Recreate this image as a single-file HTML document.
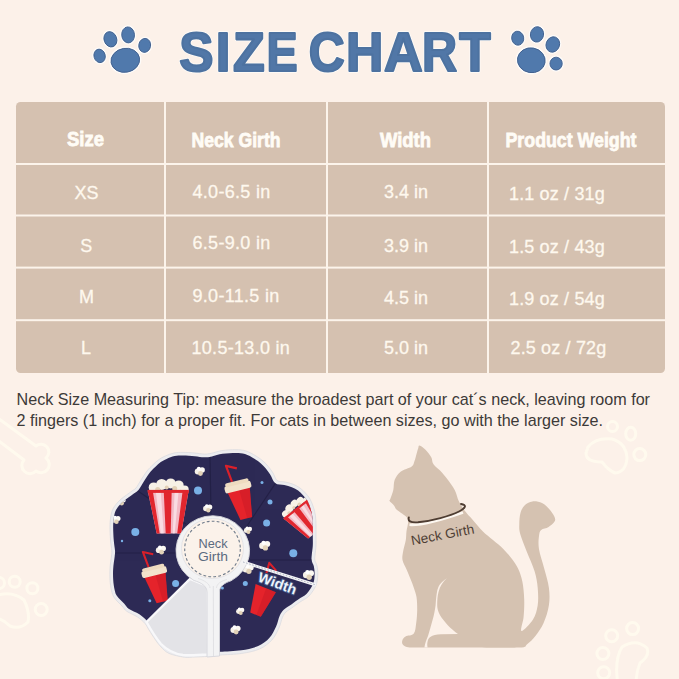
<!DOCTYPE html>
<html><head><meta charset="utf-8">
<style>
html,body{margin:0;padding:0;background:#fcf1e9;width:679px;height:679px;overflow:hidden}
svg{display:block}
text{font-family:"Liberation Sans",sans-serif}
</style></head>
<body>
<svg width="679" height="679" viewBox="0 0 679 679">
<rect x="0" y="0" width="679" height="679" fill="#fcf1e9"/>

<!-- faint background decorations -->
<g fill="none" stroke="#fffaee" stroke-width="3" stroke-linecap="round" stroke-linejoin="round">
  <!-- bone -->
  <path d="M-5 416 L36 446 A6.5 6.5 0 1 1 46 458 A6.5 6.5 0 0 1 36 471 A6.5 6.5 0 1 1 24 460 L-5 438"/>
  <!-- left paw -->
  <circle cx="14.7" cy="581.8" r="5.5"/>
  <circle cx="32.4" cy="588.3" r="5.5"/>
  <circle cx="41.2" cy="609.5" r="6"/>
  <circle cx="-1" cy="583" r="5.5"/>
  <path d="M-6 596 Q12 590 24 600 Q30 612 28 622 Q20 630 10 626 Q2 618 -6 618"/>
  <!-- right top paw -->
  <circle cx="612.5" cy="426.5" r="5"/>
  <ellipse cx="630.7" cy="433.7" rx="5" ry="6.5"/>
  <circle cx="639.8" cy="454.6" r="6"/>
  <path d="M588 447 Q596 437 612 439 Q626 443 627 458 Q626 472 615 473 Q608 470 602 462 Q586 462 586 453 Z"/>
  <!-- right bottom paw -->
  <circle cx="632.6" cy="628.6" r="6"/>
  <circle cx="611.7" cy="635.8" r="6"/>
  <circle cx="602.9" cy="653.5" r="6"/>
  <circle cx="603.7" cy="672.7" r="6"/>
  <path d="M618 685 Q614 660 622 647 Q636 638 647 648 Q650 656 640 663 Q636 672 636 685"/>
</g>

<!-- title paws -->
<g fill="#fefcfa"><ellipse cx="99.6" cy="55.9" rx="7.30" ry="8.50" transform="rotate(-15 99.6 55.9)"/><ellipse cx="110.4" cy="39.3" rx="8.00" ry="9.50" transform="rotate(-20 110.4 39.3)"/><ellipse cx="128.1" cy="34.9" rx="8.10" ry="9.70" transform="rotate(-5 128.1 34.9)"/><ellipse cx="144.7" cy="45.4" rx="7.60" ry="8.70" transform="rotate(10 144.7 45.4)"/><ellipse cx="125.3" cy="60.3" rx="16.10" ry="13.70" transform="rotate(-10 125.3 60.3)"/><ellipse cx="517.7" cy="38.2" rx="7.70" ry="8.70" transform="rotate(-10 517.7 38.2)"/><ellipse cx="537" cy="34.4" rx="8.30" ry="9.40" transform="rotate(10 537 34.4)"/><ellipse cx="552.8" cy="44.5" rx="8.40" ry="9.50" transform="rotate(20 552.8 44.5)"/><ellipse cx="556.1" cy="63.6" rx="7.85" ry="8.10" transform="rotate(0 556.1 63.6)"/><ellipse cx="531.3" cy="60.3" rx="15.60" ry="14.10" transform="rotate(10 531.3 60.3)"/></g>
<g fill="#5079ac" stroke="#3f5f8e" stroke-width="0.9"><ellipse cx="99.6" cy="55.9" rx="5.60" ry="6.80" transform="rotate(-15 99.6 55.9)"/><ellipse cx="110.4" cy="39.3" rx="6.30" ry="7.80" transform="rotate(-20 110.4 39.3)"/><ellipse cx="128.1" cy="34.9" rx="6.40" ry="8.00" transform="rotate(-5 128.1 34.9)"/><ellipse cx="144.7" cy="45.4" rx="5.90" ry="7.00" transform="rotate(10 144.7 45.4)"/><ellipse cx="125.3" cy="60.3" rx="14.40" ry="12.00" transform="rotate(-10 125.3 60.3)"/><ellipse cx="517.7" cy="38.2" rx="6.00" ry="7.00" transform="rotate(-10 517.7 38.2)"/><ellipse cx="537" cy="34.4" rx="6.60" ry="7.70" transform="rotate(10 537 34.4)"/><ellipse cx="552.8" cy="44.5" rx="6.70" ry="7.80" transform="rotate(20 552.8 44.5)"/><ellipse cx="556.1" cy="63.6" rx="6.15" ry="6.40" transform="rotate(0 556.1 63.6)"/><ellipse cx="531.3" cy="60.3" rx="13.90" ry="12.40" transform="rotate(10 531.3 60.3)"/></g>

<!-- title -->
<g text-anchor="middle" font-size="55" font-weight="bold" fill="#ffffff" stroke="#fdfaf6" stroke-width="3.8" stroke-linejoin="round"><text transform="translate(196.38 71.2) scale(0.934 1)">S</text><text transform="translate(222.98 71.2) scale(0.960 1)">I</text><text transform="translate(248.77 71.2) scale(0.944 1)">Z</text><text transform="translate(282.00 71.2) scale(0.848 1)">E</text><text transform="translate(326.70 71.2) scale(0.903 1)">C</text><text transform="translate(364.57 71.2) scale(0.941 1)">H</text><text transform="translate(403.44 71.2) scale(0.976 1)">A</text><text transform="translate(439.66 71.2) scale(0.883 1)">R</text><text transform="translate(475.07 71.2) scale(0.935 1)">T</text></g>
<g text-anchor="middle" font-size="55" font-weight="bold" fill="#5177a7" stroke="#4d72a0" stroke-width="2.2" stroke-linejoin="round"><text transform="translate(196.38 71.2) scale(0.934 1)">S</text><text transform="translate(222.98 71.2) scale(0.960 1)">I</text><text transform="translate(248.77 71.2) scale(0.944 1)">Z</text><text transform="translate(282.00 71.2) scale(0.848 1)">E</text><text transform="translate(326.70 71.2) scale(0.903 1)">C</text><text transform="translate(364.57 71.2) scale(0.941 1)">H</text><text transform="translate(403.44 71.2) scale(0.976 1)">A</text><text transform="translate(439.66 71.2) scale(0.883 1)">R</text><text transform="translate(475.07 71.2) scale(0.935 1)">T</text></g>

<!-- table -->
<rect x="16" y="102" width="649" height="271" rx="4.5" ry="4.5" fill="#d5c1b0"/>
<g fill="#fcf4eb">
  <rect x="16" y="163" width="649" height="2"/>
  <rect x="16" y="214.5" width="649" height="2"/>
  <rect x="16" y="266.6" width="649" height="2"/>
  <rect x="16" y="319.2" width="649" height="2"/>
  <rect x="164" y="102" width="2" height="271"/>
  <rect x="326" y="102" width="2" height="271"/>
  <rect x="487" y="102" width="2" height="271"/>
</g>
<g font-weight="bold" font-size="20" fill="#fffcf6" stroke="#fffcf6" stroke-width="0.8" text-anchor="middle">
  <text x="85.5" y="146" textLength="37" lengthAdjust="spacingAndGlyphs">Size</text>
  <text x="236" y="146.8" textLength="89" lengthAdjust="spacingAndGlyphs">Neck Girth</text>
  <text x="405.5" y="146.8" textLength="51" lengthAdjust="spacingAndGlyphs">Width</text>
  <text x="571" y="146.8" textLength="131" lengthAdjust="spacingAndGlyphs">Product Weight</text>
</g>
<g font-size="18" fill="#fef8ee" stroke="#fef8ee" stroke-width="0.3">
  <text x="86.5" y="198.5" text-anchor="middle">XS</text>
  <text x="86.3" y="251.5" text-anchor="middle">S</text>
  <text x="86.5" y="302.5" text-anchor="middle">M</text>
  <text x="86" y="353.5" text-anchor="middle">L</text>
  <text x="192.5" y="197.5" letter-spacing="0.3">4.0-6.5 in</text>
  <text x="192.5" y="248.5" letter-spacing="0.3">6.5-9.0 in</text>
  <text x="192.5" y="302" letter-spacing="0.3">9.0-11.5 in</text>
  <text x="191.5" y="354" letter-spacing="0.3">10.5-13.0 in</text>
  <text x="384" y="198">3.4 in</text>
  <text x="384" y="251.5">3.9 in</text>
  <text x="384" y="303.5">4.5 in</text>
  <text x="384" y="354">5.0 in</text>
  <text x="509" y="200" letter-spacing="0.15">1.1 oz / 31g</text>
  <text x="509" y="252.5" letter-spacing="0.15">1.5 oz / 43g</text>
  <text x="509" y="304.5" letter-spacing="0.15">1.9 oz / 54g</text>
  <text x="510.5" y="354" letter-spacing="0.15">2.5 oz / 72g</text>
</g>

<!-- tip text -->
<g font-size="16.1" fill="#3d3a38">
  <text x="16.5" y="404.6" textLength="633.5" lengthAdjust="spacingAndGlyphs">Neck Size Measuring Tip: measure the broadest part of your cat´s neck, leaving room for</text>
  <text x="16.5" y="425.6" textLength="586.5" lengthAdjust="spacingAndGlyphs">2 fingers (1 inch) for a proper fit. For cats in between sizes, go with the larger size.</text>
</g>

<!-- CONE placeholder -->
<g id="cone">
  <path d="M136.0 488.0 C137.5 486.2 139.2 482.8 141.0 480.0 C142.8 477.2 145.0 473.6 147.0 471.0 C149.0 468.4 151.0 466.6 153.0 464.7 C155.0 462.8 156.9 460.9 159.0 459.5 C161.1 458.1 162.8 457.1 165.3 456.0 C167.8 454.9 171.1 453.6 174.0 453.0 C176.9 452.4 179.5 452.4 183.0 452.4 C186.5 452.4 191.5 452.7 195.0 453.0 C198.5 453.3 201.5 454.1 204.2 454.1 C206.9 454.2 208.3 453.9 211.3 453.3 C214.3 452.7 217.9 451.2 222.0 450.6 C226.1 450.0 232.0 449.6 236.0 449.7 C240.0 449.8 242.7 449.9 246.0 451.0 C249.3 452.1 253.2 454.3 256.0 456.0 C258.8 457.7 260.9 459.2 263.0 461.0 C265.1 462.8 266.6 464.5 268.3 466.5 C270.0 468.5 271.5 470.6 273.0 473.0 C274.5 475.4 275.2 479.1 277.2 480.6 C279.2 482.1 282.4 481.4 285.0 482.0 C287.6 482.6 290.5 483.2 293.0 484.2 C295.5 485.2 297.9 486.5 300.0 488.0 C302.1 489.5 303.7 491.2 305.4 493.0 C307.1 494.8 308.7 496.6 310.0 499.0 C311.3 501.4 312.5 504.4 313.4 507.2 C314.3 510.0 315.1 513.1 315.5 516.0 C315.9 518.9 315.9 521.6 316.0 524.8 C316.1 528.0 316.0 531.5 316.0 535.0 C316.0 538.5 316.2 542.7 316.0 546.0 C315.8 549.3 315.2 552.7 315.0 555.0 C314.8 557.3 314.5 558.2 314.8 560.0 C315.1 561.8 316.5 563.5 317.0 566.0 C317.5 568.5 318.0 571.8 317.8 575.0 C317.6 578.2 317.5 581.8 316.0 585.3 C314.5 588.8 311.7 593.2 309.0 596.0 C306.3 598.8 302.9 600.0 300.0 602.0 C297.1 604.0 293.6 606.6 291.3 608.3 C289.0 610.0 287.5 610.5 286.0 612.0 C284.5 613.5 283.7 614.6 282.5 617.2 C281.3 619.8 280.8 624.0 279.0 627.8 C277.2 631.6 275.1 636.5 271.9 640.0 C268.6 643.5 264.5 646.8 259.5 649.0 C254.5 651.2 248.3 652.4 241.8 653.4 C235.3 654.4 225.4 654.6 220.6 655.0 C215.8 655.4 215.2 655.8 213.0 656.0 C210.8 656.2 210.2 656.3 207.2 656.5 C204.2 656.7 198.8 656.9 195.0 657.0 C191.2 657.1 188.5 657.8 184.2 657.2 C179.9 656.6 172.9 655.1 169.0 653.4 C165.1 651.7 163.2 649.2 161.0 647.0 C158.8 644.8 157.5 642.8 155.5 640.0 C153.5 637.2 150.8 632.8 149.0 630.0 C147.2 627.2 146.9 625.7 145.0 623.5 C143.1 621.3 140.6 619.0 137.6 617.0 C134.6 615.0 129.4 613.1 126.8 611.3 C124.2 609.5 124.1 608.2 122.0 606.0 C119.9 603.8 116.2 600.5 114.4 597.9 C112.7 595.3 112.2 593.5 111.5 590.5 C110.8 587.5 110.2 583.7 110.0 580.0 C109.8 576.3 109.8 572.4 110.0 568.4 C110.2 564.4 111.2 559.0 111.5 556.0 C111.8 553.0 112.0 553.4 111.8 550.7 C111.6 548.0 110.8 544.4 110.5 540.0 C110.2 535.6 109.8 528.7 110.0 524.2 C110.2 519.7 110.8 516.0 111.5 513.0 C112.2 510.1 113.0 508.7 114.4 506.5 C115.8 504.3 118.0 501.9 120.0 500.0 C122.0 498.1 124.5 496.5 126.5 495.0 C128.5 493.5 130.4 492.2 132.0 491.0 C133.6 489.8 134.5 489.8 136.0 488.0Z" fill="#ececef" stroke="#dcdce0" stroke-width="0.8"/>
  <clipPath id="navyclip"><path d="M138.5 490.0 C140.1 488.1 141.8 484.6 143.7 481.7 C145.5 478.9 147.6 475.4 149.5 473.0 C151.4 470.5 153.3 468.8 155.2 467.0 C157.1 465.2 159.0 463.5 160.8 462.1 C162.7 460.8 164.3 459.9 166.6 458.9 C168.9 457.9 171.9 456.7 174.6 456.1 C177.4 455.6 179.6 455.6 183.0 455.6 C186.4 455.6 191.2 455.9 194.7 456.2 C198.3 456.5 201.3 457.3 204.1 457.3 C207.0 457.3 208.9 457.0 211.9 456.4 C215.0 455.9 218.5 454.4 222.5 453.8 C226.5 453.2 232.2 452.9 235.9 452.9 C239.7 452.9 242.0 453.1 245.0 454.1 C248.1 455.0 251.7 457.2 254.4 458.8 C257.0 460.3 259.0 461.8 260.9 463.4 C262.8 465.1 264.3 466.7 265.8 468.5 C267.4 470.4 268.7 472.3 270.3 474.7 C271.9 477.1 272.9 481.4 275.3 483.2 C277.6 484.9 281.5 484.5 284.3 485.1 C287.0 485.8 289.5 486.3 291.8 487.2 C294.1 488.1 296.3 489.3 298.1 490.6 C300.0 491.9 301.5 493.5 303.0 495.2 C304.5 496.8 306.0 498.4 307.2 500.6 C308.4 502.7 309.5 505.5 310.4 508.2 C311.2 510.8 311.9 513.7 312.3 516.5 C312.7 519.3 312.7 521.8 312.8 524.9 C312.9 528.0 312.8 531.5 312.8 535.0 C312.8 538.5 313.0 542.6 312.8 545.8 C312.6 549.1 312.0 552.3 311.8 554.7 C311.6 557.2 311.3 558.6 311.7 560.6 C312.0 562.6 313.4 564.3 313.9 566.6 C314.4 569.0 314.7 571.9 314.6 574.8 C314.5 577.7 314.4 580.9 313.0 584.1 C311.7 587.2 309.2 591.2 306.7 593.8 C304.2 596.3 301.0 597.4 298.2 599.4 C295.3 601.4 291.8 604.0 289.4 605.7 C287.0 607.4 285.4 608.0 283.7 609.8 C282.1 611.5 280.8 613.1 279.6 615.9 C278.3 618.7 277.8 622.8 276.1 626.5 C274.4 630.1 272.5 634.6 269.5 637.8 C266.6 641.1 262.9 644.0 258.2 646.1 C253.5 648.1 247.6 649.3 241.3 650.2 C235.0 651.2 225.1 651.4 220.3 651.8 C215.5 652.2 214.9 652.6 212.6 652.8 C210.4 653.1 210.0 653.1 207.0 653.3 C204.1 653.5 198.6 653.7 194.9 653.8 C191.2 653.9 188.7 654.6 184.6 654.0 C180.5 653.5 173.9 652.0 170.3 650.5 C166.7 648.9 165.3 646.8 163.3 644.7 C161.2 642.7 160.0 640.9 158.1 638.2 C156.2 635.4 153.5 631.1 151.7 628.3 C149.9 625.5 149.5 623.7 147.4 621.4 C145.4 619.1 142.5 616.5 139.4 614.3 C136.3 612.2 131.1 610.4 128.6 608.7 C126.1 606.9 126.3 605.9 124.3 603.8 C122.4 601.7 118.7 598.5 117.0 596.1 C115.4 593.8 115.3 592.5 114.6 589.7 C114.0 587.0 113.4 583.3 113.2 579.8 C113.0 576.3 112.9 572.5 113.2 568.6 C113.4 564.7 114.4 559.3 114.7 556.3 C115.0 553.3 115.2 553.3 115.0 550.5 C114.8 547.7 114.0 544.1 113.7 539.8 C113.4 535.4 113.0 528.7 113.2 524.3 C113.3 520.0 114.0 516.4 114.6 513.8 C115.3 511.1 115.8 510.2 117.1 508.3 C118.3 506.3 120.3 504.1 122.2 502.3 C124.1 500.5 126.5 499.0 128.4 497.6 C130.4 496.1 132.2 494.8 133.9 493.6 C135.6 492.3 136.8 492.0 138.5 490.0Z"/></clipPath>
  <path d="M138.5 490.0 C140.1 488.1 141.8 484.6 143.7 481.7 C145.5 478.9 147.6 475.4 149.5 473.0 C151.4 470.5 153.3 468.8 155.2 467.0 C157.1 465.2 159.0 463.5 160.8 462.1 C162.7 460.8 164.3 459.9 166.6 458.9 C168.9 457.9 171.9 456.7 174.6 456.1 C177.4 455.6 179.6 455.6 183.0 455.6 C186.4 455.6 191.2 455.9 194.7 456.2 C198.3 456.5 201.3 457.3 204.1 457.3 C207.0 457.3 208.9 457.0 211.9 456.4 C215.0 455.9 218.5 454.4 222.5 453.8 C226.5 453.2 232.2 452.9 235.9 452.9 C239.7 452.9 242.0 453.1 245.0 454.1 C248.1 455.0 251.7 457.2 254.4 458.8 C257.0 460.3 259.0 461.8 260.9 463.4 C262.8 465.1 264.3 466.7 265.8 468.5 C267.4 470.4 268.7 472.3 270.3 474.7 C271.9 477.1 272.9 481.4 275.3 483.2 C277.6 484.9 281.5 484.5 284.3 485.1 C287.0 485.8 289.5 486.3 291.8 487.2 C294.1 488.1 296.3 489.3 298.1 490.6 C300.0 491.9 301.5 493.5 303.0 495.2 C304.5 496.8 306.0 498.4 307.2 500.6 C308.4 502.7 309.5 505.5 310.4 508.2 C311.2 510.8 311.9 513.7 312.3 516.5 C312.7 519.3 312.7 521.8 312.8 524.9 C312.9 528.0 312.8 531.5 312.8 535.0 C312.8 538.5 313.0 542.6 312.8 545.8 C312.6 549.1 312.0 552.3 311.8 554.7 C311.6 557.2 311.3 558.6 311.7 560.6 C312.0 562.6 313.4 564.3 313.9 566.6 C314.4 569.0 314.7 571.9 314.6 574.8 C314.5 577.7 314.4 580.9 313.0 584.1 C311.7 587.2 309.2 591.2 306.7 593.8 C304.2 596.3 301.0 597.4 298.2 599.4 C295.3 601.4 291.8 604.0 289.4 605.7 C287.0 607.4 285.4 608.0 283.7 609.8 C282.1 611.5 280.8 613.1 279.6 615.9 C278.3 618.7 277.8 622.8 276.1 626.5 C274.4 630.1 272.5 634.6 269.5 637.8 C266.6 641.1 262.9 644.0 258.2 646.1 C253.5 648.1 247.6 649.3 241.3 650.2 C235.0 651.2 225.1 651.4 220.3 651.8 C215.5 652.2 214.9 652.6 212.6 652.8 C210.4 653.1 210.0 653.1 207.0 653.3 C204.1 653.5 198.6 653.7 194.9 653.8 C191.2 653.9 188.7 654.6 184.6 654.0 C180.5 653.5 173.9 652.0 170.3 650.5 C166.7 648.9 165.3 646.8 163.3 644.7 C161.2 642.7 160.0 640.9 158.1 638.2 C156.2 635.4 153.5 631.1 151.7 628.3 C149.9 625.5 149.5 623.7 147.4 621.4 C145.4 619.1 142.5 616.5 139.4 614.3 C136.3 612.2 131.1 610.4 128.6 608.7 C126.1 606.9 126.3 605.9 124.3 603.8 C122.4 601.7 118.7 598.5 117.0 596.1 C115.4 593.8 115.3 592.5 114.6 589.7 C114.0 587.0 113.4 583.3 113.2 579.8 C113.0 576.3 112.9 572.5 113.2 568.6 C113.4 564.7 114.4 559.3 114.7 556.3 C115.0 553.3 115.2 553.3 115.0 550.5 C114.8 547.7 114.0 544.1 113.7 539.8 C113.4 535.4 113.0 528.7 113.2 524.3 C113.3 520.0 114.0 516.4 114.6 513.8 C115.3 511.1 115.8 510.2 117.1 508.3 C118.3 506.3 120.3 504.1 122.2 502.3 C124.1 500.5 126.5 499.0 128.4 497.6 C130.4 496.1 132.2 494.8 133.9 493.6 C135.6 492.3 136.8 492.0 138.5 490.0Z" fill="#2d2a55"/>
  <g clip-path="url(#navyclip)">
  <g stroke="#1f1d40" stroke-width="1.2" fill="none" opacity="0.7">
    <path d="M210 456 L211 514"/><path d="M277 481 L243 532"/><path d="M314 560 L248 560"/><path d="M112 553 L176 553"/><path d="M135 489 L186 524"/>
  </g>
  <circle cx="198" cy="490.4" r="4" fill="#79b0e6"/><circle cx="135.3" cy="531.9" r="4" fill="#79b0e6"/><circle cx="262" cy="482.4" r="1.5" fill="#79b0e6"/><circle cx="270" cy="502" r="2.5" fill="#79b0e6"/><circle cx="266.6" cy="523" r="3.5" fill="#79b0e6"/><circle cx="293.3" cy="553.3" r="4" fill="#79b0e6"/><circle cx="245.3" cy="583.6" r="2.5" fill="#79b0e6"/><circle cx="222.4" cy="588" r="1.5" fill="#79b0e6"/><circle cx="175.6" cy="583.5" r="3.5" fill="#79b0e6"/><circle cx="149.8" cy="600.7" r="1.5" fill="#79b0e6"/><circle cx="122" cy="541" r="1.2" fill="#79b0e6"/>
  <g transform="translate(199.9 471) scale(1.1)"><circle cx="-2" cy="0.5" r="2.7" fill="#f6f1e8"/><circle cx="2" cy="-1" r="2.5" fill="#fbf8f2"/><circle cx="0.5" cy="2.3" r="2.2" fill="#e2d2b8"/><circle cx="-1" cy="-2" r="1.8" fill="#ffffff"/></g><g transform="translate(121.2 501) scale(1.0)"><circle cx="-2" cy="0.5" r="2.7" fill="#f6f1e8"/><circle cx="2" cy="-1" r="2.5" fill="#fbf8f2"/><circle cx="0.5" cy="2.3" r="2.2" fill="#e2d2b8"/><circle cx="-1" cy="-2" r="1.8" fill="#ffffff"/></g><g transform="translate(116 519.5) scale(1.0)"><circle cx="-2" cy="0.5" r="2.7" fill="#f6f1e8"/><circle cx="2" cy="-1" r="2.5" fill="#fbf8f2"/><circle cx="0.5" cy="2.3" r="2.2" fill="#e2d2b8"/><circle cx="-1" cy="-2" r="1.8" fill="#ffffff"/></g><g transform="translate(207.8 508) scale(1.0)"><circle cx="-2" cy="0.5" r="2.7" fill="#f6f1e8"/><circle cx="2" cy="-1" r="2.5" fill="#fbf8f2"/><circle cx="0.5" cy="2.3" r="2.2" fill="#e2d2b8"/><circle cx="-1" cy="-2" r="1.8" fill="#ffffff"/></g><g transform="translate(161 549.6) scale(1.1)"><circle cx="-2" cy="0.5" r="2.7" fill="#f6f1e8"/><circle cx="2" cy="-1" r="2.5" fill="#fbf8f2"/><circle cx="0.5" cy="2.3" r="2.2" fill="#e2d2b8"/><circle cx="-1" cy="-2" r="1.8" fill="#ffffff"/></g><g transform="translate(248 530) scale(0.9)"><circle cx="-2" cy="0.5" r="2.7" fill="#f6f1e8"/><circle cx="2" cy="-1" r="2.5" fill="#fbf8f2"/><circle cx="0.5" cy="2.3" r="2.2" fill="#e2d2b8"/><circle cx="-1" cy="-2" r="1.8" fill="#ffffff"/></g><g transform="translate(264.8 545.2) scale(1.2)"><circle cx="-2" cy="0.5" r="2.7" fill="#f6f1e8"/><circle cx="2" cy="-1" r="2.5" fill="#fbf8f2"/><circle cx="0.5" cy="2.3" r="2.2" fill="#e2d2b8"/><circle cx="-1" cy="-2" r="1.8" fill="#ffffff"/></g><g transform="translate(248.3 568.6) scale(1.2)"><circle cx="-2" cy="0.5" r="2.7" fill="#f6f1e8"/><circle cx="2" cy="-1" r="2.5" fill="#fbf8f2"/><circle cx="0.5" cy="2.3" r="2.2" fill="#e2d2b8"/><circle cx="-1" cy="-2" r="1.8" fill="#ffffff"/></g><g transform="translate(308.6 574.5) scale(1.2)"><circle cx="-2" cy="0.5" r="2.7" fill="#f6f1e8"/><circle cx="2" cy="-1" r="2.5" fill="#fbf8f2"/><circle cx="0.5" cy="2.3" r="2.2" fill="#e2d2b8"/><circle cx="-1" cy="-2" r="1.8" fill="#ffffff"/></g><g transform="translate(240.3 611) scale(0.9)"><circle cx="-2" cy="0.5" r="2.7" fill="#f6f1e8"/><circle cx="2" cy="-1" r="2.5" fill="#fbf8f2"/><circle cx="0.5" cy="2.3" r="2.2" fill="#e2d2b8"/><circle cx="-1" cy="-2" r="1.8" fill="#ffffff"/></g><g transform="translate(235.6 629.5) scale(1.1)"><circle cx="-2" cy="0.5" r="2.7" fill="#f6f1e8"/><circle cx="2" cy="-1" r="2.5" fill="#fbf8f2"/><circle cx="0.5" cy="2.3" r="2.2" fill="#e2d2b8"/><circle cx="-1" cy="-2" r="1.8" fill="#ffffff"/></g>
  <g transform="translate(147.7 490.4)">
  <g fill="#f7f1e6"><circle cx="6" cy="-3" r="5"/><circle cx="14" cy="-6" r="5.5"/><circle cx="23" cy="-7" r="5"/><circle cx="31" cy="-5" r="5"/><circle cx="37" cy="-1" r="4"/></g>
  <g fill="#e3d1b6"><circle cx="10" cy="-1" r="2.5"/><circle cx="27" cy="-2" r="2.5"/><circle cx="19" cy="-3" r="2"/></g>
  <path d="M0 0 L41 0 L33.5 43 L9 43 Z" fill="#f3b9c4"/>
  <path d="M0 0 L5 0 L12 43 L9 43 Z M16 0 L24 0 L23 43 L18 43 Z M35 0 L41 0 L33.5 43 L29.5 43 Z" fill="#e1262e"/>
  <path d="M8 0 L13 0 L16 43 L13 43 Z M27 0 L31 0 L27 43 L25 43 Z" fill="#ffffff" opacity="0.5"/>
  <rect x="0" y="-0.5" width="41" height="3" fill="#e1262e"/>
</g>
  <g transform="translate(283.5 518.5) rotate(-38) scale(0.78 0.72)">
  <g fill="#f7f1e6"><circle cx="6" cy="-3" r="5"/><circle cx="14" cy="-6" r="5.5"/><circle cx="23" cy="-7" r="5"/><circle cx="31" cy="-5" r="5"/><circle cx="37" cy="-1" r="4"/></g>
  <g fill="#e3d1b6"><circle cx="10" cy="-1" r="2.5"/><circle cx="27" cy="-2" r="2.5"/><circle cx="19" cy="-3" r="2"/></g>
  <path d="M0 0 L41 0 L33.5 43 L9 43 Z" fill="#f3b9c4"/>
  <path d="M0 0 L5 0 L12 43 L9 43 Z M16 0 L24 0 L23 43 L18 43 Z M35 0 L41 0 L33.5 43 L29.5 43 Z" fill="#e1262e"/>
  <path d="M8 0 L13 0 L16 43 L13 43 Z M27 0 L31 0 L27 43 L25 43 Z" fill="#ffffff" opacity="0.5"/>
  <rect x="0" y="-0.5" width="41" height="3" fill="#e1262e"/>
</g>
  <g transform="translate(224 487) rotate(-14)">
  <path d="M9 -3 L7 -20 L17 -15" fill="none" stroke="#d9202a" stroke-width="2.2" stroke-linejoin="round"/>
  <path d="M2 6 L25 6 L20 36 L8 36 Z" fill="#e5232b"/>
  <path d="M14 6 L25 6 L20 36 L15 36 Z" fill="#c91a25" opacity="0.5"/>
  <rect x="0" y="0" width="27" height="7" rx="2" fill="#f3e3cc"/><rect x="1.5" y="-3" width="24" height="4" rx="2" fill="#eedbc0"/>
</g>
  <g transform="translate(141 572) rotate(-14) scale(0.95 0.95)">
  <path d="M9 -3 L7 -20 L17 -15" fill="none" stroke="#d9202a" stroke-width="2.2" stroke-linejoin="round"/>
  <path d="M2 6 L25 6 L20 36 L8 36 Z" fill="#e5232b"/>
  <path d="M14 6 L25 6 L20 36 L15 36 Z" fill="#c91a25" opacity="0.5"/>
  <rect x="0" y="0" width="27" height="7" rx="2" fill="#f3e3cc"/><rect x="1.5" y="-3" width="24" height="4" rx="2" fill="#eedbc0"/>
</g>
  <g transform="translate(256 578) rotate(22) scale(0.95 0.95)">
  <path d="M9 -3 L7 -20 L17 -15" fill="none" stroke="#d9202a" stroke-width="2.2" stroke-linejoin="round"/>
  <path d="M2 6 L25 6 L20 36 L8 36 Z" fill="#e5232b"/>
  <path d="M14 6 L25 6 L20 36 L15 36 Z" fill="#c91a25" opacity="0.5"/>
  
</g>
  </g>
  <path d="M146.5 622 L190 579 C196 581.5 202 584 207.5 586 L208 654.5 C200 655 190 655.5 183 655 C175 654 167 650 161 644 C156 638 151 630 146.5 622 Z" fill="#e3e3e7" stroke="#f8f8fa" stroke-width="2.4"/>
  <path d="M207 657 L207 592 C207 586 201 582.5 194 580.5 A36.8 34.8 0 1 1 231 580.8 C224.5 583 219.5 586 219.5 592 L219.5 656 Z" fill="#f3f3f4" stroke="#d6d6db" stroke-width="0.9"/>
  <path d="M213.3 586 L213.5 656" stroke="#dcdce0" stroke-width="0.8"/>
  <path d="M210 588 C210 584 204 580 198 578.5" fill="none" stroke="#dcdce0" stroke-width="0.7"/>
  <path d="M216.5 588 C216.5 584 221 581 227 579.5" fill="none" stroke="#dcdce0" stroke-width="0.7"/>
  <ellipse cx="212.5" cy="548.5" rx="31" ry="30" fill="#fbf2ea" stroke="#e0e0e4" stroke-width="0.8"/>
  <circle cx="212.5" cy="549" r="27.8" fill="none" stroke="#6f7b8b" stroke-width="1.1" stroke-dasharray="2.8 2.2"/>
  <g font-size="13.5" fill="#5b6b80" text-anchor="middle">
    <text x="213" y="547.5" textLength="29" lengthAdjust="spacingAndGlyphs">Neck</text>
    <text x="213" y="561" textLength="30" lengthAdjust="spacingAndGlyphs">Girth</text>
  </g>
  <path d="M243 562 L316 585" stroke="#f4f4f6" stroke-width="3"/>
  <path d="M243 562 L316 585" stroke="#a8b0c0" stroke-width="0.9" stroke-dasharray="1.6 1.6"/>
  <text x="0" y="0" font-size="14" font-weight="bold" fill="#eef4fb" stroke="#3d4f80" stroke-width="2" stroke-linejoin="round" paint-order="stroke" transform="translate(257 581) rotate(20)" textLength="40" lengthAdjust="spacingAndGlyphs">Width</text>
</g>

<!-- CAT placeholder -->
<g id="cat">
  <path d="M419.3 445.6 C420.2 445.6 422.1 446.9 423.5 448.0 C424.9 449.1 426.2 450.4 427.5 452.0 C428.8 453.6 430.5 455.6 431.5 457.7 C432.5 459.8 431.8 461.9 433.5 464.3 C435.2 466.8 439.5 469.8 441.9 472.4 C444.3 475.0 445.9 477.1 448.0 480.0 C450.1 482.9 452.8 486.4 454.7 490.0 C456.6 493.6 457.2 498.1 459.1 501.8 C461.0 505.5 463.6 509.2 465.8 512.1 C468.0 515.1 469.6 516.3 472.4 519.5 C475.2 522.7 479.3 527.8 482.7 531.2 C486.1 534.6 489.6 537.0 493.0 540.0 C496.4 543.0 500.1 545.7 503.3 548.9 C506.5 552.1 509.7 555.8 512.2 559.2 C514.7 562.6 516.8 565.7 518.5 569.5 C520.2 573.3 521.4 576.8 522.4 581.8 C523.4 586.8 524.0 593.5 524.2 599.4 C524.4 605.3 524.1 611.8 523.6 617.1 C523.1 622.4 519.9 630.6 521.5 631.0 C523.1 631.4 530.3 623.8 533.0 619.5 C535.7 615.2 536.9 610.6 537.7 605.3 C538.5 600.0 538.2 593.4 537.7 587.7 C537.2 582.0 536.3 577.0 534.5 571.0 C532.7 565.0 529.3 558.0 526.9 551.9 C524.5 545.8 521.6 538.8 520.3 534.2 C519.0 529.6 519.2 527.8 519.3 524.2 C519.3 520.6 519.6 515.6 520.6 512.4 C521.6 509.2 523.0 506.8 525.0 505.0 C527.0 503.2 529.6 501.7 532.4 501.4 C535.2 501.1 539.1 501.6 542.0 503.0 C544.9 504.4 547.8 507.2 550.0 510.0 C552.2 512.8 555.4 516.9 555.2 519.8 C555.0 522.6 550.9 525.4 548.6 527.1 C546.3 528.8 542.8 528.5 541.2 530.0 C539.6 531.5 539.4 532.8 539.0 536.0 C538.6 539.2 538.1 543.8 539.0 549.2 C539.9 554.6 542.6 562.0 544.2 568.4 C545.9 574.8 548.1 581.6 548.9 587.7 C549.7 593.9 549.8 599.4 548.9 605.3 C548.0 611.2 545.9 617.9 543.6 623.0 C541.4 628.1 538.1 632.5 535.4 636.0 C532.6 639.5 529.9 642.3 527.1 644.2 C524.4 646.1 528.4 647.0 518.9 647.6 C509.4 648.2 483.1 647.6 470.0 647.6 C456.9 647.6 449.2 647.4 440.0 647.4 C430.8 647.4 420.5 647.4 415.0 647.4 C409.5 647.4 408.9 647.7 406.8 647.1 C404.7 646.5 403.2 645.2 402.5 644.0 C401.8 642.8 402.0 641.2 402.5 640.0 C403.0 638.8 403.7 637.6 405.6 636.5 C407.5 635.4 412.0 635.9 413.8 633.6 C415.6 631.4 415.6 626.9 416.2 623.0 C416.8 619.1 417.1 614.3 417.2 610.0 C417.2 605.7 417.1 600.7 416.5 597.0 C415.9 593.3 414.8 590.7 413.8 587.7 C412.8 584.7 411.7 582.0 410.5 579.0 C409.3 576.0 408.1 573.2 406.8 570.0 C405.5 566.8 403.1 563.2 402.5 560.0 C401.9 556.8 402.8 553.9 403.3 550.6 C403.9 547.3 405.3 543.2 405.8 540.0 C406.3 536.8 406.1 534.7 406.5 531.3 C406.9 527.9 408.8 522.5 408.0 519.5 C407.2 516.5 404.0 515.3 402.0 513.6 C400.0 511.9 397.5 510.6 396.2 509.2 C394.9 507.8 395.1 506.9 394.0 505.5 C392.9 504.1 390.2 502.2 389.6 501.1 C389.0 500.0 389.7 500.8 390.3 498.9 C390.9 497.0 392.6 493.2 393.3 490.0 C394.0 486.8 393.5 482.9 394.7 479.8 C395.9 476.8 397.8 473.9 400.6 471.7 C403.4 469.5 409.4 468.3 411.7 466.5 C414.0 464.7 413.6 463.2 414.5 461.0 C415.4 458.8 416.2 455.2 416.8 453.0 C417.4 450.8 417.9 449.2 418.3 448.0 C418.7 446.8 418.4 445.6 419.3 445.6Z" fill="#d5c2b1"/>
  <path d="M446.8 578.2 C441 582 437.8 586 437 592 C436 598 436 601 435.6 605.3 C434.8 611 434 615 432.7 619.5 C431 626 429.5 631 428 636 C426.5 640 425 643 424.4 647.6 L427.6 647.6 C426.8 643.5 427.5 639 430.3 637.1 C433 635 436 634.3 441 634.2 L458 634 C454 631 451 628.5 448 625.4 C444.5 621.5 441.5 618 439.8 614.8 C437.8 611 437.2 608 437.2 605 C437.2 600 437.5 596 438.5 592 C440 586 443 581.5 446.8 578.2 Z" fill="#fcf1e9"/>
  <path d="M409.5 524.8 C420 525.5 440 520.5 463 512.5" fill="none" stroke="#fdf7f0" stroke-width="2.6"/>
  <path d="M408.8 517.5 C407.8 521 410 522.8 418 522.3 C432 521 450 516 459 511.5 C466 508 467 505 461 504" fill="none" stroke="#4e3d32" stroke-width="1.9" stroke-linecap="round"/>
  <text x="0" y="0" font-size="13.5" fill="#4f3f35" transform="translate(412 545.3) rotate(-10.7)" textLength="64" lengthAdjust="spacingAndGlyphs">Neck Girth</text>
</g>

</svg>
</body></html>
